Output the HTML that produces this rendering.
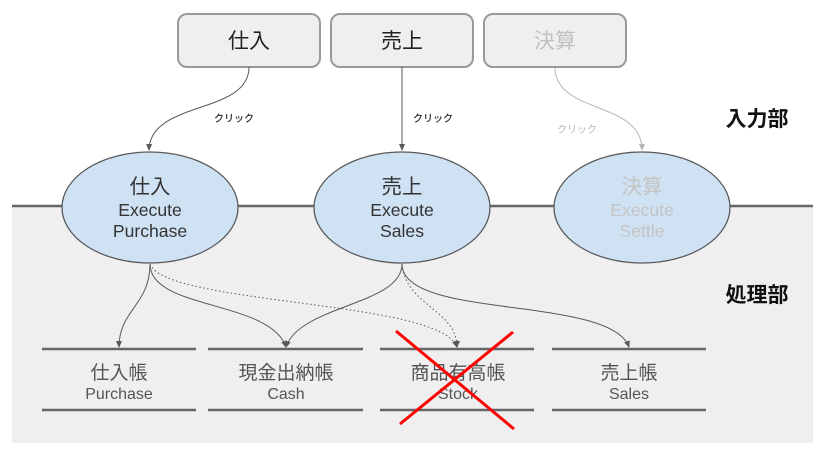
<!DOCTYPE html>
<html><head><meta charset="utf-8">
<style>
html,body{margin:0;padding:0;background:#fff;width:825px;height:455px;overflow:hidden}
svg{display:block;filter:blur(0.35px)}
text{font-family:"Liberation Sans","Noto Sans CJK JP",sans-serif;text-anchor:middle}
</style></head>
<body>
<svg width="825" height="455" viewBox="0 0 825 455" xmlns="http://www.w3.org/2000/svg">
<defs>
<marker id="a" markerWidth="8" markerHeight="8" refX="6" refY="3.5" orient="auto" markerUnits="userSpaceOnUse"><path d="M0 0.5L7 3.5L0 6.5Z" fill="#595959"/></marker>
<marker id="b" markerWidth="8" markerHeight="8" refX="6" refY="3.5" orient="auto" markerUnits="userSpaceOnUse"><path d="M0 0.5L7 3.5L0 6.5Z" fill="#b7b7b7"/></marker>
</defs>
<rect x="12" y="206" width="801" height="237" fill="#efefef"/>
<line x1="12" y1="206" x2="813" y2="206" stroke="#666" stroke-width="2.5"/>

<g fill="#efefef" stroke="#999" stroke-width="2">
<rect x="178" y="14" width="142" height="53" rx="9"/>
<rect x="331" y="14" width="142" height="53" rx="9"/>
<rect x="484" y="14" width="142" height="53" rx="9"/>
</g>
<text x="249" y="48" font-size="21" fill="#222">仕入</text>
<text x="402" y="48" font-size="21" fill="#222">売上</text>
<text x="555" y="48" font-size="21" fill="#c0c0c0">決算</text>

<g fill="none" stroke-width="1">
<path d="M249 67C249 115 150 100 149 150" stroke="#595959" marker-end="url(#a)"/>
<path d="M402 67V150" stroke="#595959" marker-end="url(#a)"/>
<path d="M555 67C555 115 642 100 642 150" stroke="#b7b7b7" marker-end="url(#b)"/>
<path d="M150 264C150 305 119 310 119 347" stroke="#595959" marker-end="url(#a)"/>
<path d="M150 264C150 310 270 300 286 347" stroke="#595959" marker-end="url(#a)"/>
<path d="M402 264C402 305 300 305 286 347" stroke="#595959" marker-end="url(#a)"/>
<path d="M402 264C402 320 610 295 629 347" stroke="#595959" marker-end="url(#a)"/>
<path d="M150 264C165 305 440 300 457 347" stroke="#595959" stroke-dasharray="1.5 2.5" marker-end="url(#a)"/>
<path d="M402 264C405 305 457 310 457 347" stroke="#595959" stroke-dasharray="1.5 2.5" marker-end="url(#a)"/>
</g>

<text x="234" y="122" font-size="10" fill="#222" stroke="#222" stroke-width="0.15">クリック</text>
<text x="433" y="122" font-size="10" fill="#222" stroke="#222" stroke-width="0.15">クリック</text>
<text x="577" y="133" font-size="10" fill="#b7b7b7">クリック</text>

<g fill="#cfe2f3" stroke="#595959" stroke-width="1.3">
<ellipse cx="150" cy="207.5" rx="88" ry="55.5"/>
<ellipse cx="402" cy="207.5" rx="88" ry="55.5"/>
<ellipse cx="642" cy="207.5" rx="88" ry="55.5"/>
</g>
<g font-size="20.5" fill="#333">
<text x="150" y="193.5">仕入</text><text x="402" y="193.5">売上</text>
</g>
<g font-size="17.6" fill="#333">
<text x="150" y="216">Execute</text><text x="150" y="237">Purchase</text>
<text x="402" y="216">Execute</text><text x="402" y="237">Sales</text>
</g>
<text x="642" y="193.5" font-size="20.5" fill="#c4c4c4">決算</text>
<text x="642" y="216" font-size="17.6" fill="#c4c4c4">Execute</text>
<text x="642" y="237" font-size="17.6" fill="#c4c4c4">Settle</text>

<text x="757" y="126" font-size="21" font-weight="bold" fill="#111">入力部</text>
<text x="757" y="302" font-size="21" font-weight="bold" fill="#111">処理部</text>

<g stroke="#666" stroke-width="2.5">
<line x1="42" y1="349" x2="196" y2="349"/><line x1="42" y1="410" x2="196" y2="410"/>
<line x1="208" y1="349" x2="363" y2="349"/><line x1="208" y1="410" x2="363" y2="410"/>
<line x1="380" y1="349" x2="534" y2="349"/><line x1="380" y1="410" x2="534" y2="410"/>
<line x1="552" y1="349" x2="706" y2="349"/><line x1="552" y1="410" x2="706" y2="410"/>
</g>
<g font-size="19" fill="#555">
<text x="119" y="379">仕入帳</text><text x="286" y="379">現金出納帳</text>
<text x="458" y="379">商品有高帳</text><text x="629" y="379">売上帳</text>
</g>
<g font-size="16" fill="#555">
<text x="119" y="399">Purchase</text><text x="286" y="399">Cash</text>
<text x="458" y="399">Stock</text><text x="629" y="399">Sales</text>
</g>
<g stroke="#ff0000" stroke-width="3">
<line x1="396" y1="331" x2="514" y2="429"/>
<line x1="513" y1="332" x2="400" y2="424"/>
</g>
</svg>
</body></html>
